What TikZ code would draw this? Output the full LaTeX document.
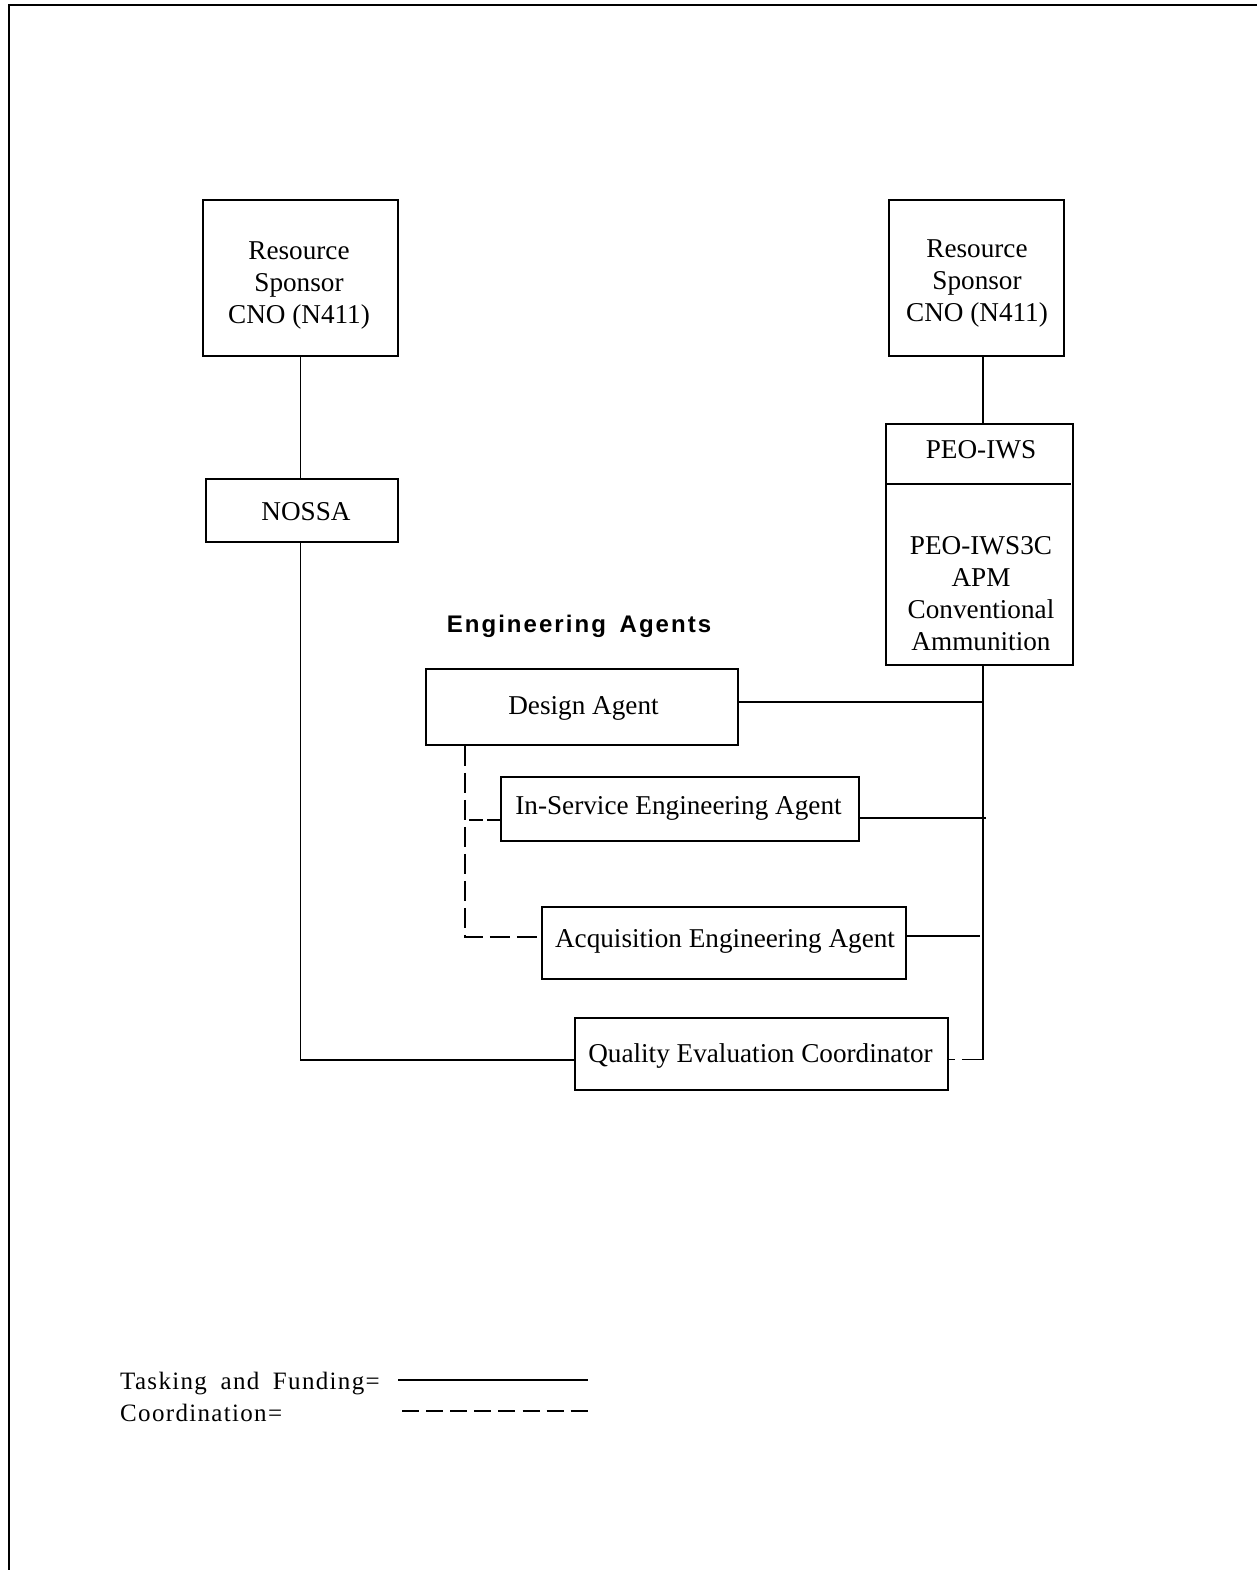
\documentclass[tikz,border=0pt]{standalone}
\usepackage{fontspec}
\setmainfont{Liberation Serif}
\newfontfamily\engfont[LetterSpace=8.5]{Liberation Sans Bold}
\newfontfamily\legfont[LetterSpace=5.3,WordSpace=1.8]{Liberation Serif}
\begin{document}
\begin{tikzpicture}[x=1pt,y=-1pt,
  box/.style={draw, line width=1.5pt, rectangle, inner sep=0pt},
  lbl/.style={font=\fontsize{27.2}{32}\selectfont, inner sep=0pt, align=center},
  leg/.style={font={\legfont\fontsize{25}{29}\selectfont}, inner sep=0pt, anchor=base west},
  conn/.style={line width=1.3pt},
  coordline/.style={line width=1.3pt, dash pattern=on 20pt off 7pt}]
\useasboundingbox (0,0) rectangle (1257,1570);
% page frame (top and left edges)
\draw[line width=2.6pt] (1257,5) -- (9,5) -- (9,1570);

% boxes
\node[box, minimum width=195pt, minimum height=156pt] (rs1) at (300.5,278) {};
\node[box, minimum width=175pt, minimum height=156pt] (rs2) at (976.5,278) {};
\node[box, minimum width=192pt, minimum height=63pt] (nossa) at (302,510.5) {};
\node[box, minimum width=187pt, minimum height=241pt] (peo) at (979.5,544.5) {};
\node[box, minimum width=312pt, minimum height=76pt] (da) at (582,707) {};
\node[box, minimum width=358pt, minimum height=64pt] (isea) at (680,809) {};
\node[box, minimum width=364pt, minimum height=72pt] (aea) at (724,943) {};
\node[box, minimum width=373pt, minimum height=72pt] (qec) at (761.5,1054) {};
\draw[line width=2.6pt] (peo.west |- 0,484) -- (1071,484);

% texts
\node[lbl] (rs1t) at (299,285.5) {Resource\\Sponsor\\CNO (N411)};
\node[lbl] (rs2t) at (977,283) {Resource\\Sponsor\\CNO (N411)};
\node[lbl, anchor=base] (nossat) at (306,520) {NOSSA};
\node[lbl, anchor=base] (peot1) at (981,458) {PEO-IWS};
\node[lbl] (peot2) at (981,594) {PEO-IWS3C\\APM\\Conventional\\Ammunition};
\node[font={\engfont\fontsize{24}{28}\selectfont}, anchor=base, inner sep=0pt] (eng) at (579,632) {Engineering \hspace{5pt}Agents};
\node[lbl, anchor=base] (dat) at (583.5,714) {Design Agent};
\node[lbl, anchor=base] (iseat) at (678.5,814) {In-Service Engineering Agent};
\node[lbl, anchor=base] (aeat) at (725,947) {Acquisition Engineering Agent};
\node[lbl, anchor=base] (qect) at (760.5,1062) {Quality Evaluation Coordinator};

% connector coordinates
\coordinate (trunk) at (983,0);
\coordinate (daR) at (983,702);
\coordinate (iseaR) at (986,818);
\coordinate (aeaR) at (980,936);
\coordinate (qecR) at (983,1059.5);
\coordinate (qecL) at (575,1060);
\coordinate (dv) at (465,0);
\coordinate (iseaL) at (501,820);
\coordinate (aeaL) at (542,937);

% tasking and funding (solid)
\draw[conn] (rs1.south) -- (rs1.south |- nossa.north);
\draw[conn] (rs1.south |- nossa.south) |- (qec.west |- qecL);
\draw[conn] (rs2.south -| trunk) -- (peo.north -| trunk);
\draw[conn] (peo.south -| trunk) -- (qecR);
\draw[conn] (da.east |- daR) -- (daR);
\draw[conn] (isea.east |- iseaR) -- (iseaR);
\draw[conn] (aea.east |- aeaR) -- (aeaR);

% coordination (dashed)
\draw[conn, dash pattern=on 6pt off 7pt on 22pt off 0pt] (qec.east |- qecR) -- (qecR);
\draw[coordline] (da.south -| dv) |- (aea.west |- aeaL);
\draw[conn, dash pattern=on 14pt off 4pt, dash phase=14pt] (dv |- iseaL) -- (isea.west |- iseaL);

% legend
\node[leg] (tf) at (120,1389) {Tasking and Funding=};
\node[leg] (co) at (120,1421) {Coordination=};
\coordinate (l1a) at (398,1380);
\coordinate (l1b) at (588,1380);
\coordinate (l2a) at (402,1411);
\coordinate (l2b) at (588,1411);
\draw[conn] (l1a) -- (l1b);
\draw[conn, dash pattern=on 17pt off 7.1pt] (l2a) -- (l2b);
\end{tikzpicture}
\end{document}
